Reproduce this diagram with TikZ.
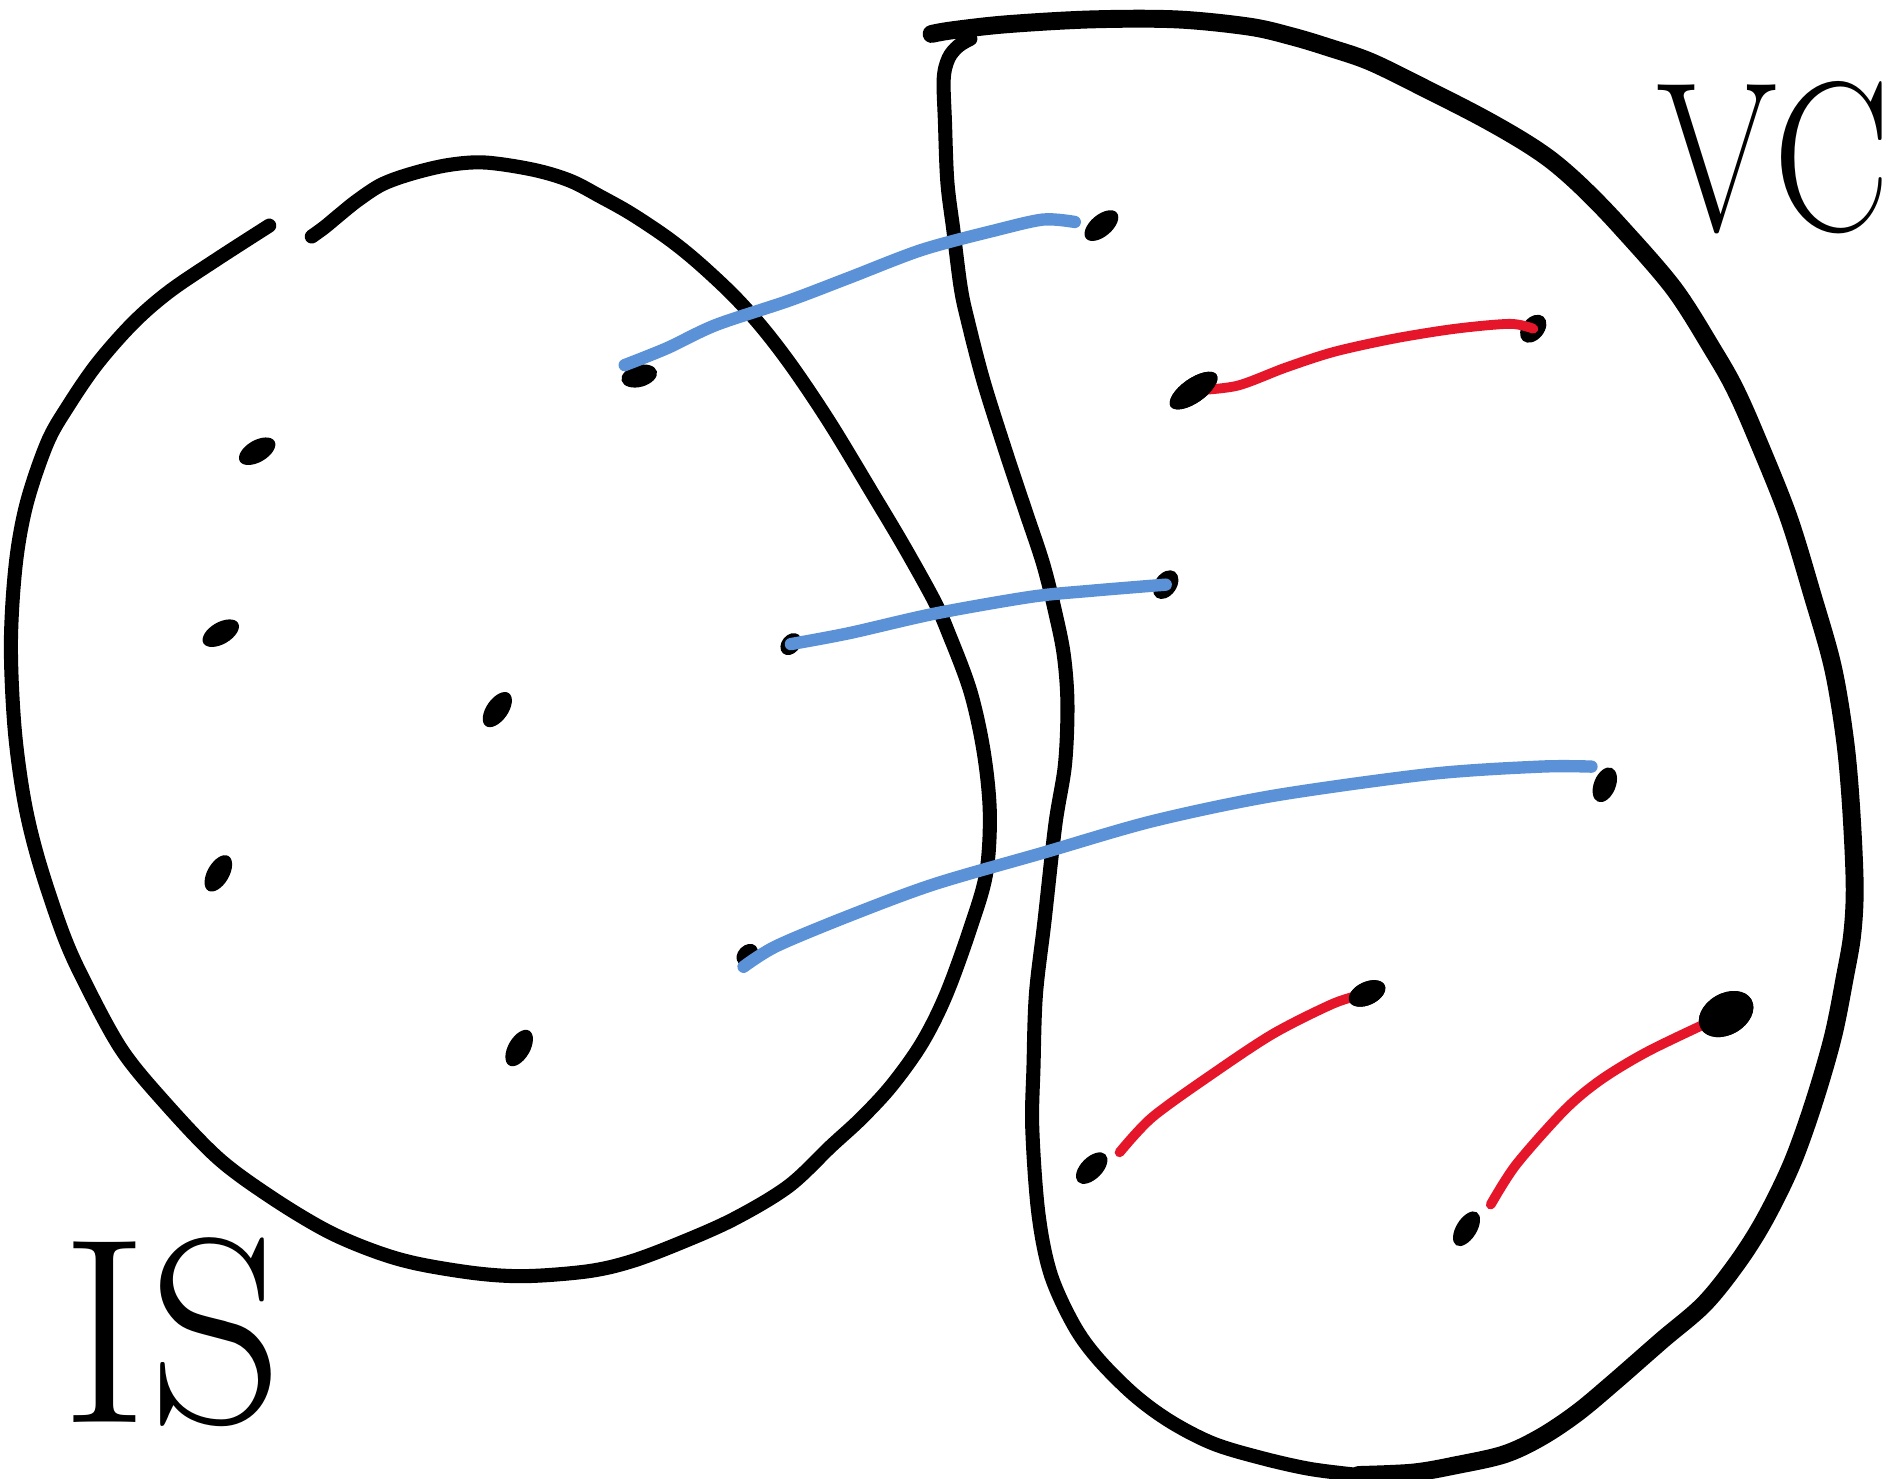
\documentclass[tikz,border=0pt]{standalone}
\usetikzlibrary{shapes.geometric}
\definecolor{penblue}{RGB}{90,145,215}
\definecolor{penred}{RGB}{230,22,42}
\tikzset{
  setline/.style={line width=3.3pt, line cap=round, line join=round},
  setlinethick/.style={line width=4.2pt, line cap=round, line join=round},
  blueline/.style={draw=penblue, line width=2.9pt, line cap=round, line join=round},
  redline/.style={draw=penred, line width=2.3pt, line cap=round, line join=round},
  blob/.style={ellipse, fill=black, inner sep=0pt, minimum width=0.33cm, minimum height=0.18cm},
  bigblob/.style={ellipse, fill=black, inner sep=0pt, minimum width=0.48cm, minimum height=0.34cm},
  label/.style={inner sep=2pt}
}
\begin{document}
\begin{tikzpicture}[x=0.01cm, y=-0.01cm]
\useasboundingbox (0,0) rectangle (1568,1219);

% ---- left set (IS) ----
\draw[setline] plot[smooth, tension=0.55] coordinates {
 (257,195) (268,187) (280,177) (295,165) (315,152) (340,143) (370,136) (400,134)
 (440,140) (470,149) (495,162) (520,176) (550,196) (575,216) (605,244) (630,272)
 (655,305) (685,350) (720,408) (745,450) (770,495) (782,522) (800,570) (811,620)
 (816,670) (813,720) (800,765) (780,820) (760,860) (735,895) (710,922) (685,945)
 (650,978) (605,1005) (560,1025) (520,1040) (485,1048) (435,1052) (395,1050)
 (345,1042) (310,1032) (270,1015) (225,988) (180,955) (135,908) (100,865) (70,810)
 (52,770) (32,710) (20,660) (12,600) (9,530) (13,465) (22,415) (39,365) (56,335)
 (80,300) (110,266) (140,240) (180,213) (222,186)};

% ---- right set (VC) ----
\draw[setlinethick] plot[smooth, tension=0.55] coordinates {
 (768,28) (785,25) (830,20) (900,16) (970,16) (1030,22) (1065,30) (1095,39)
 (1130,51) (1175,73) (1220,96) (1255,116) (1280,133) (1305,155) (1335,186)
 (1380,238) (1413,290) (1430,320) (1447,358) (1474,425) (1494,490) (1511,550)
 (1521,610) (1526,665) (1529,730) (1527,770) (1521,805) (1511,855) (1495,910)
 (1477,960) (1455,1005) (1433,1040) (1405,1075) (1370,1105) (1330,1140)
 (1300,1165) (1270,1185) (1240,1199) (1200,1208) (1165,1214) (1120,1216)};
\draw[setline] plot[smooth, tension=0.55] coordinates {
 (1120,1216) (1080,1211) (1040,1202) (1000,1190) (965,1172) (935,1150) (905,1120)
 (885,1092) (866,1050) (856,1000) (851,930) (852,880) (854,820) (861,760)
 (870,680) (878,630) (880,580) (877,540) (870,505) (860,465) (845,420) (830,375)
 (811,315) (798,265) (792,237) (786,190) (781,150) (779,100) (778,65) (782,48)
 (790,38) (800,32)};

% ---- dots ----
\node[blob, rotate=30] (L1) at (212,372) {};
\node[blob, rotate=30] (L2) at (182,522) {};
\node[blob, rotate=55] (L3) at (410,585) {};
\node[blob, rotate=60] (L4) at (180,720) {};
\node[blob, rotate=60] (L5) at (428,864) {};
\node[blob, rotate=15, minimum width=0.3cm] (L6) at (527,310) {};
\node[blob, rotate=50, minimum width=0.2cm, minimum height=0.15cm] (L7) at (652,531) {};
\node[blob, rotate=45, minimum width=0.2cm, minimum height=0.15cm] (L8) at (616,787) {};
\node[blob, rotate=40] (R1) at (908,186) {};
\node[blob, rotate=35, minimum width=0.46cm, minimum height=0.2cm] (R2) at (984,322) {};
\node[blob, rotate=55, minimum width=0.26cm] (R3) at (961,482) {};
\node[blob, rotate=50, minimum width=0.26cm] (R4) at (1264,271) {};
\node[blob, rotate=68, minimum width=0.3cm] (R5) at (1323,647) {};
\node[blob, rotate=25, minimum width=0.32cm, minimum height=0.19cm] (R6) at (1127,819) {};
\node[bigblob, rotate=30] (R7) at (1423,836) {};
\node[blob, rotate=45, minimum width=0.32cm] (R8) at (900,963) {};
\node[blob, rotate=58, minimum width=0.32cm, minimum height=0.17cm] (R9) at (1209,1013) {};

% ---- blue connectors ----
\draw[blueline] plot[smooth, tension=0.5] coordinates {
 (515,301) (550,287) (590,268) (650,248) (700,229) (760,206) (820,190) (860,181) (886,183)};
\draw[blueline] plot[smooth, tension=0.5] coordinates {
 (L7) (700,522) (770,506) (850,492) (900,487) (R3)};
\draw[blueline] plot[smooth, tension=0.5] coordinates {
 (613,797) (640,780) (700,755) (770,729) (860,703) (950,677) (1050,656) (1180,638) (1270,632) (1312,632)};

% ---- red connectors ----
\draw[redline] plot[smooth, tension=0.5] coordinates {
 (R2) (1020,318) (1060,303) (1100,290) (1150,279) (1200,271) (1245,267) (R4)};
\draw[redline] plot[smooth, tension=0.5] coordinates {
 (923,950) (950,921) (1000,885) (1050,852) (1100,827) (R6)};
\draw[redline] plot[smooth, tension=0.5] coordinates {
 (1229,993) (1250,960) (1290,915) (1320,890) (1360,866) (R7)};

% dots drawn on top of the connectors
\node[blob, rotate=35, minimum width=0.46cm, minimum height=0.2cm] at (R2) {};
\node[blob, rotate=25, minimum width=0.32cm, minimum height=0.19cm] at (R6) {};
\node[bigblob, rotate=30] at (R7) {};

% ---- labels ----
\node[label, font=\fontsize{62}{62}\selectfont] (IS) at (142,1098) {IS};
\node[label, font=\fontsize{50}{50}\selectfont, xscale=0.82] (VC) at (1462,130) {VC};
\end{tikzpicture}
\end{document}
